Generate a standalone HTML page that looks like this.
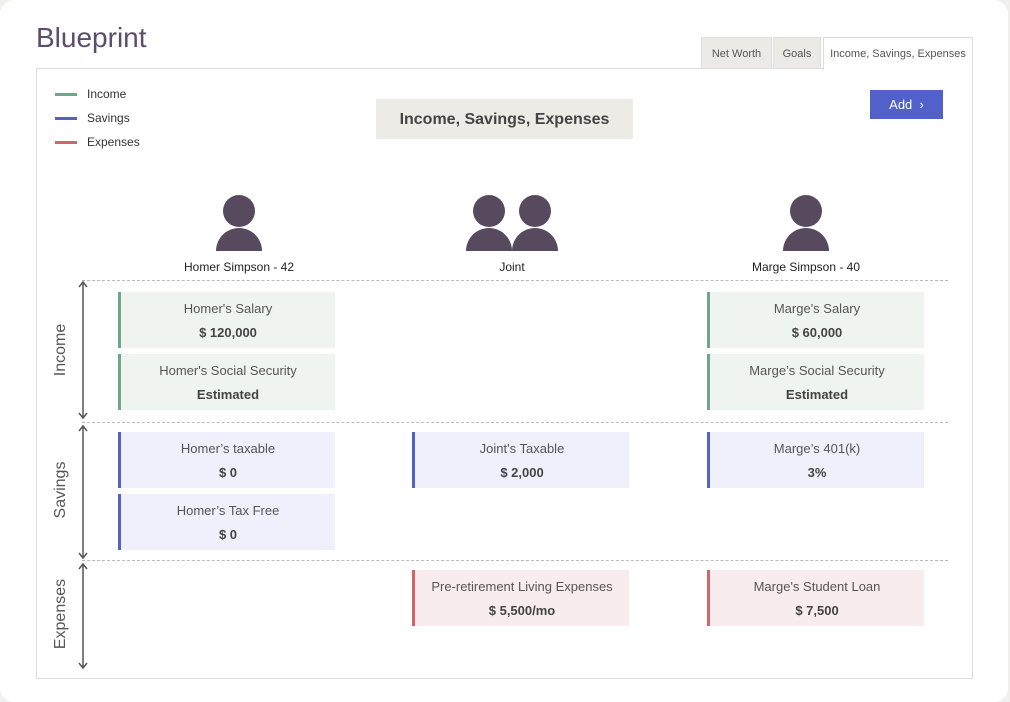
<!DOCTYPE html>
<html><head><style>
body{margin:0;width:1010px;height:702px;background:#f1f0ee;font-family:"Liberation Sans",sans-serif;position:relative;overflow:hidden}
.a{position:absolute}
.card{position:absolute;width:214px;height:56px;border-left:3px solid;text-align:center;font-size:13px;color:#555}
.card .t{position:absolute;top:9px;left:0;right:0}
.card .v{position:absolute;top:33px;left:0;right:0;font-weight:bold;color:#444}
.inc{background:#eff4f1;border-color:#6fa58d}
.sav{background:#eff0fb;border-color:#5262c6}
.exp{background:#f8ecee;border-color:#d0666c}
.tab{position:absolute;top:37px;height:31px;background:#ebeae6;font-size:11px;color:#555;text-align:center;line-height:32px;border:1px solid #ddd;border-bottom:none}
.hd{position:absolute;width:32px;height:32px;border-radius:50%;background:#574a5e}
.bd{position:absolute;width:46px;height:23px;border-radius:23px 23px 0 0;background:#574a5e}
.dl{position:absolute;left:82px;width:866px;border-top:1px dashed #bbb}
.lbl{position:absolute;font-size:16px;color:#555;transform:translate(-50%,-50%) rotate(-90deg);white-space:nowrap}
.name{position:absolute;font-size:12px;color:#222;transform:translateX(-50%);top:260px;white-space:nowrap}
</style></head><body>
<div class="a" style="left:0;top:0;width:1008px;height:702px;background:#fff;border-radius:14px"></div>
<div class="a" style="left:36px;top:22px;font-size:28px;color:#5e4d69">Blueprint</div>
<div class="tab" style="left:701px;width:69px">Net Worth</div>
<div class="tab" style="left:773px;width:46px">Goals</div>
<div class="tab" style="left:823px;width:148px;background:#fff;z-index:2;height:32px">Income, Savings, Expenses</div>
<div class="a" style="left:36px;top:68px;width:935px;height:609px;border:1px solid #ddd"></div>
<div class="a" style="left:55px;top:93px;width:22px;height:3px;background:#6fa58d"></div>
<div class="a" style="left:87px;top:87px;font-size:12px;color:#333">Income</div>
<div class="a" style="left:55px;top:117px;width:22px;height:3px;background:#5262c6"></div>
<div class="a" style="left:87px;top:111px;font-size:12px;color:#333">Savings</div>
<div class="a" style="left:55px;top:141px;width:22px;height:3px;background:#d0666c"></div>
<div class="a" style="left:87px;top:135px;font-size:12px;color:#333">Expenses</div>
<div class="a" style="left:376px;top:99px;width:257px;height:40px;background:#edebe6;font-size:16px;font-weight:bold;color:#444;text-align:center;line-height:41px">Income, Savings, Expenses</div>
<div class="a" style="left:870px;top:90px;width:73px;height:29px;background:#5161c9;color:#fff;font-size:13px;text-align:center;line-height:29px">Add &nbsp;›</div>
<div class="hd" style="left:223px;top:195px"></div><div class="bd" style="left:216px;top:228px"></div>
<div class="hd" style="left:473px;top:195px"></div><div class="bd" style="left:466px;top:228px"></div>
<div class="hd" style="left:519px;top:195px"></div><div class="bd" style="left:512px;top:228px"></div>
<div class="hd" style="left:790px;top:195px"></div><div class="bd" style="left:783px;top:228px"></div>
<div class="name" style="left:239px">Homer Simpson - 42</div>
<div class="name" style="left:512px">Joint</div>
<div class="name" style="left:806px">Marge Simpson - 40</div>
<div class="dl" style="top:280px"></div><div class="dl" style="top:422px"></div><div class="dl" style="top:560px"></div>
<svg class="a" style="left:0;top:0" width="1010" height="702">
<g stroke="#555" stroke-width="1.5" fill="none">
<path d="M83 283V417M79 287L83 282L87 287M79 413L83 418L87 413"/>
<path d="M83 427V557M79 431L83 426L87 431M79 553L83 558L87 553"/>
<path d="M83 565V667M79 569L83 564L87 569M79 663L83 668L87 663"/>
</g></svg>
<div class="lbl" style="left:61px;top:350px">Income</div>
<div class="lbl" style="left:61px;top:490px">Savings</div>
<div class="lbl" style="left:61px;top:614px">Expenses</div>
<div class="card inc" style="left:118px;top:292px"><div class="t">Homer's Salary</div><div class="v">$ 120,000</div></div>
<div class="card inc" style="left:118px;top:354px"><div class="t">Homer's Social Security</div><div class="v">Estimated</div></div>
<div class="card inc" style="left:707px;top:292px"><div class="t">Marge's Salary</div><div class="v">$ 60,000</div></div>
<div class="card inc" style="left:707px;top:354px"><div class="t">Marge’s Social Security</div><div class="v">Estimated</div></div>
<div class="card sav" style="left:118px;top:432px"><div class="t">Homer’s taxable</div><div class="v">$ 0</div></div>
<div class="card sav" style="left:118px;top:494px"><div class="t">Homer’s Tax Free</div><div class="v">$ 0</div></div>
<div class="card sav" style="left:412px;top:432px"><div class="t">Joint's Taxable</div><div class="v">$ 2,000</div></div>
<div class="card sav" style="left:707px;top:432px"><div class="t">Marge’s 401(k)</div><div class="v">3%</div></div>
<div class="card exp" style="left:412px;top:570px"><div class="t">Pre-retirement Living Expenses</div><div class="v">$ 5,500/mo</div></div>
<div class="card exp" style="left:707px;top:570px"><div class="t">Marge's Student Loan</div><div class="v">$ 7,500</div></div>
</body></html>
